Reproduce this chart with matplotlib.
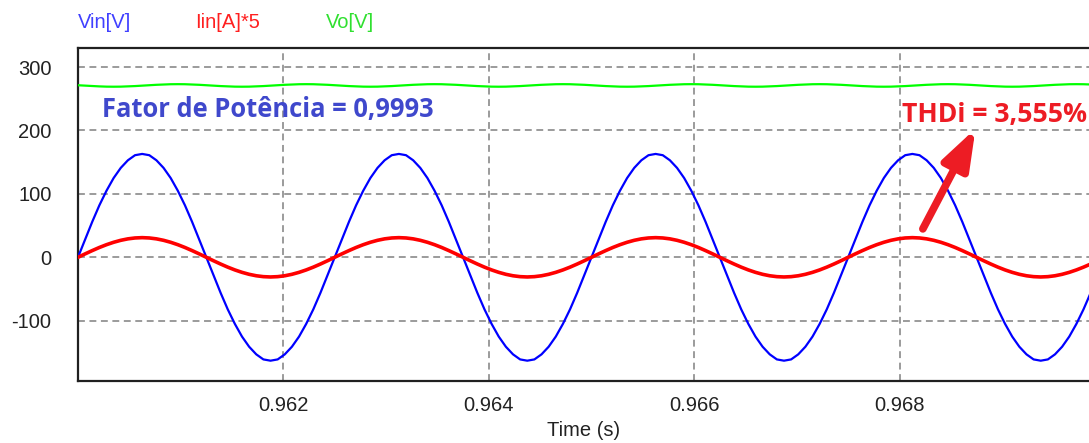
import numpy as np
import matplotlib
matplotlib.use("Agg")
import matplotlib.pyplot as plt

# ---- data ----
t_start, t_end, n_pts = 0.96, 0.97, 145
vin = [
    0, 28, 56, 82, 105, 125, 141, 153, 161, 163, 161, 153, 141, 125, 105, 82, 56, 28,
    0, -28, -56, -82, -105, -125, -141, -153, -161, -163, -161, -153, -141, -125, -105, -82, -56, -28,
    0, 28, 56, 82, 105, 125, 141, 153, 161, 163, 161, 153, 141, 125, 105, 82, 56, 28,
    0, -28, -56, -82, -105, -125, -141, -153, -161, -163, -161, -153, -141, -125, -105, -82, -56, -28,
    0, 28, 56, 82, 105, 125, 141, 153, 161, 163, 161, 153, 141, 125, 105, 82, 56, 28,
    0, -28, -56, -82, -105, -125, -141, -153, -161, -163, -161, -153, -141, -125, -105, -82, -56, -28,
    0, 28, 56, 82, 105, 125, 141, 153, 161, 163, 161, 153, 141, 125, 105, 82, 56, 28,
    0, -28, -56, -82, -105, -125, -141, -153, -161, -163, -161, -153, -141, -125, -105, -82, -56, -28,
    0,
]
iin5 = [
    0, 5.4, 10.6, 15.5, 19.9, 23.7, 26.8, 29.1, 30.5, 31, 30.5, 29.1, 26.8, 23.7, 19.9, 15.5, 10.6, 5.4,
    0, -5.4, -10.6, -15.5, -19.9, -23.7, -26.8, -29.1, -30.5, -31, -30.5, -29.1, -26.8, -23.7, -19.9, -15.5, -10.6, -5.4,
    0, 5.4, 10.6, 15.5, 19.9, 23.7, 26.8, 29.1, 30.5, 31, 30.5, 29.1, 26.8, 23.7, 19.9, 15.5, 10.6, 5.4,
    0, -5.4, -10.6, -15.5, -19.9, -23.7, -26.8, -29.1, -30.5, -31, -30.5, -29.1, -26.8, -23.7, -19.9, -15.5, -10.6, -5.4,
    0, 5.4, 10.6, 15.5, 19.9, 23.7, 26.8, 29.1, 30.5, 31, 30.5, 29.1, 26.8, 23.7, 19.9, 15.5, 10.6, 5.4,
    0, -5.4, -10.6, -15.5, -19.9, -23.7, -26.8, -29.1, -30.5, -31, -30.5, -29.1, -26.8, -23.7, -19.9, -15.5, -10.6, -5.4,
    0, 5.4, 10.6, 15.5, 19.9, 23.7, 26.8, 29.1, 30.5, 31, 30.5, 29.1, 26.8, 23.7, 19.9, 15.5, 10.6, 5.4,
    0, -5.4, -10.6, -15.5, -19.9, -23.7, -26.8, -29.1, -30.5, -31, -30.5, -29.1, -26.8, -23.7, -19.9, -15.5, -10.6, -5.4,
    0,
]
vo = [
    271.3, 270.7, 270, 269.5, 269.1, 269, 269.1, 269.5, 270, 270.7, 271.3, 272, 272.5, 272.9, 273, 272.9, 272.5, 272,
    271.3, 270.7, 270, 269.5, 269.1, 269, 269.1, 269.5, 270, 270.7, 271.3, 272, 272.5, 272.9, 273, 272.9, 272.5, 272,
    271.3, 270.7, 270, 269.5, 269.1, 269, 269.1, 269.5, 270, 270.7, 271.3, 272, 272.5, 272.9, 273, 272.9, 272.5, 272,
    271.3, 270.7, 270, 269.5, 269.1, 269, 269.1, 269.5, 270, 270.7, 271.3, 272, 272.5, 272.9, 273, 272.9, 272.5, 272,
    271.3, 270.7, 270, 269.5, 269.1, 269, 269.1, 269.5, 270, 270.7, 271.3, 272, 272.5, 272.9, 273, 272.9, 272.5, 272,
    271.3, 270.7, 270, 269.5, 269.1, 269, 269.1, 269.5, 270, 270.7, 271.3, 272, 272.5, 272.9, 273, 272.9, 272.5, 272,
    271.3, 270.7, 270, 269.5, 269.1, 269, 269.1, 269.5, 270, 270.7, 271.3, 272, 272.5, 272.9, 273, 272.9, 272.5, 272,
    271.3, 270.7, 270, 269.5, 269.1, 269, 269.1, 269.5, 270, 270.7, 271.3, 272, 272.5, 272.9, 273, 272.9, 272.5, 272,
    271.3,
]
x_ticks = [0.962, 0.964, 0.966, 0.968]
x_tick_labels = ["0.962", "0.964", "0.966", "0.968"]
y_ticks = [-100, 0, 100, 200, 300]
series_names = ["Vin[V]", "Iin[A]*5", "Vo[V]"]
pf_text = "Fator de Potência = 0,9993"
thd_text = "THDi = 3,555%"

t = np.linspace(t_start, t_end, n_pts)

plt.rcParams['font.family'] = ['Liberation Sans', 'DejaVu Sans']
plt.rcParams['axes.unicode_minus'] = False
fig = plt.figure(figsize=(10.89, 4.43), dpi=100)
ax = fig.add_axes([0.0716, 0.140, 0.9284, 0.7516])

ax.plot(t, vo, color="#00FF00", lw=1.6, zorder=3)
ax.plot(t, vin, color="#0000FF", lw=1.6, zorder=4)
ax.plot(t, iin5, color="#FF0000", lw=2.6, zorder=5)

ax.set_xlim(0.96, 0.969845)
ax.set_ylim(-195, 330)
ax.set_xticks(x_ticks)
ax.set_xticklabels(x_tick_labels)
ax.set_yticks(y_ticks)
ax.tick_params(length=0, labelsize=14.5, colors="#222222")
ax.tick_params(axis='y', pad=19)
ax.tick_params(axis='x', pad=11)
ax.grid(True, color="#808080", lw=1.1, ls=(0, (4.5, 3)))
for s in ["left", "bottom", "top"]:
    ax.spines[s].set_color("#202020")
    ax.spines[s].set_linewidth(1.6)
ax.spines["right"].set_visible(False)
ax.set_xlabel("Time (s)", fontsize=14.5, color="#222222", labelpad=4)

# legend-like labels at top
fig.text(78 / 1089, 1 - 22 / 443, series_names[0], color="#4040FF", fontsize=14.5, va="center", ha="left")
fig.text(195 / 1089, 1 - 22 / 443, series_names[1], color="#FF2020", fontsize=14.5, va="center", ha="left")
fig.text(326 / 1089, 1 - 22 / 443, series_names[2], color="#30E030", fontsize=14.5, va="center", ha="left")

ax.text(0.960233, 222, pf_text, color="#3F48CC", fontsize=18.4, fontweight="bold",
        va="baseline", ha="left", family=["Open Sans", "DejaVu Sans"], zorder=6)
ax.text(0.968023, 214, thd_text, color="#ED1C24", fontsize=19.2, fontweight="bold",
        va="baseline", ha="left", family=["Open Sans", "DejaVu Sans"], zorder=6)
ax.annotate("", xy=(0.968740, 203), xytext=(0.968227, 44.8),
            arrowprops=dict(arrowstyle="-|>,head_length=2.4,head_width=0.85", color="#ED1C24",
                            lw=5.5, shrinkA=0, shrinkB=0), zorder=7)

fig.savefig("out.png", dpi=100)
